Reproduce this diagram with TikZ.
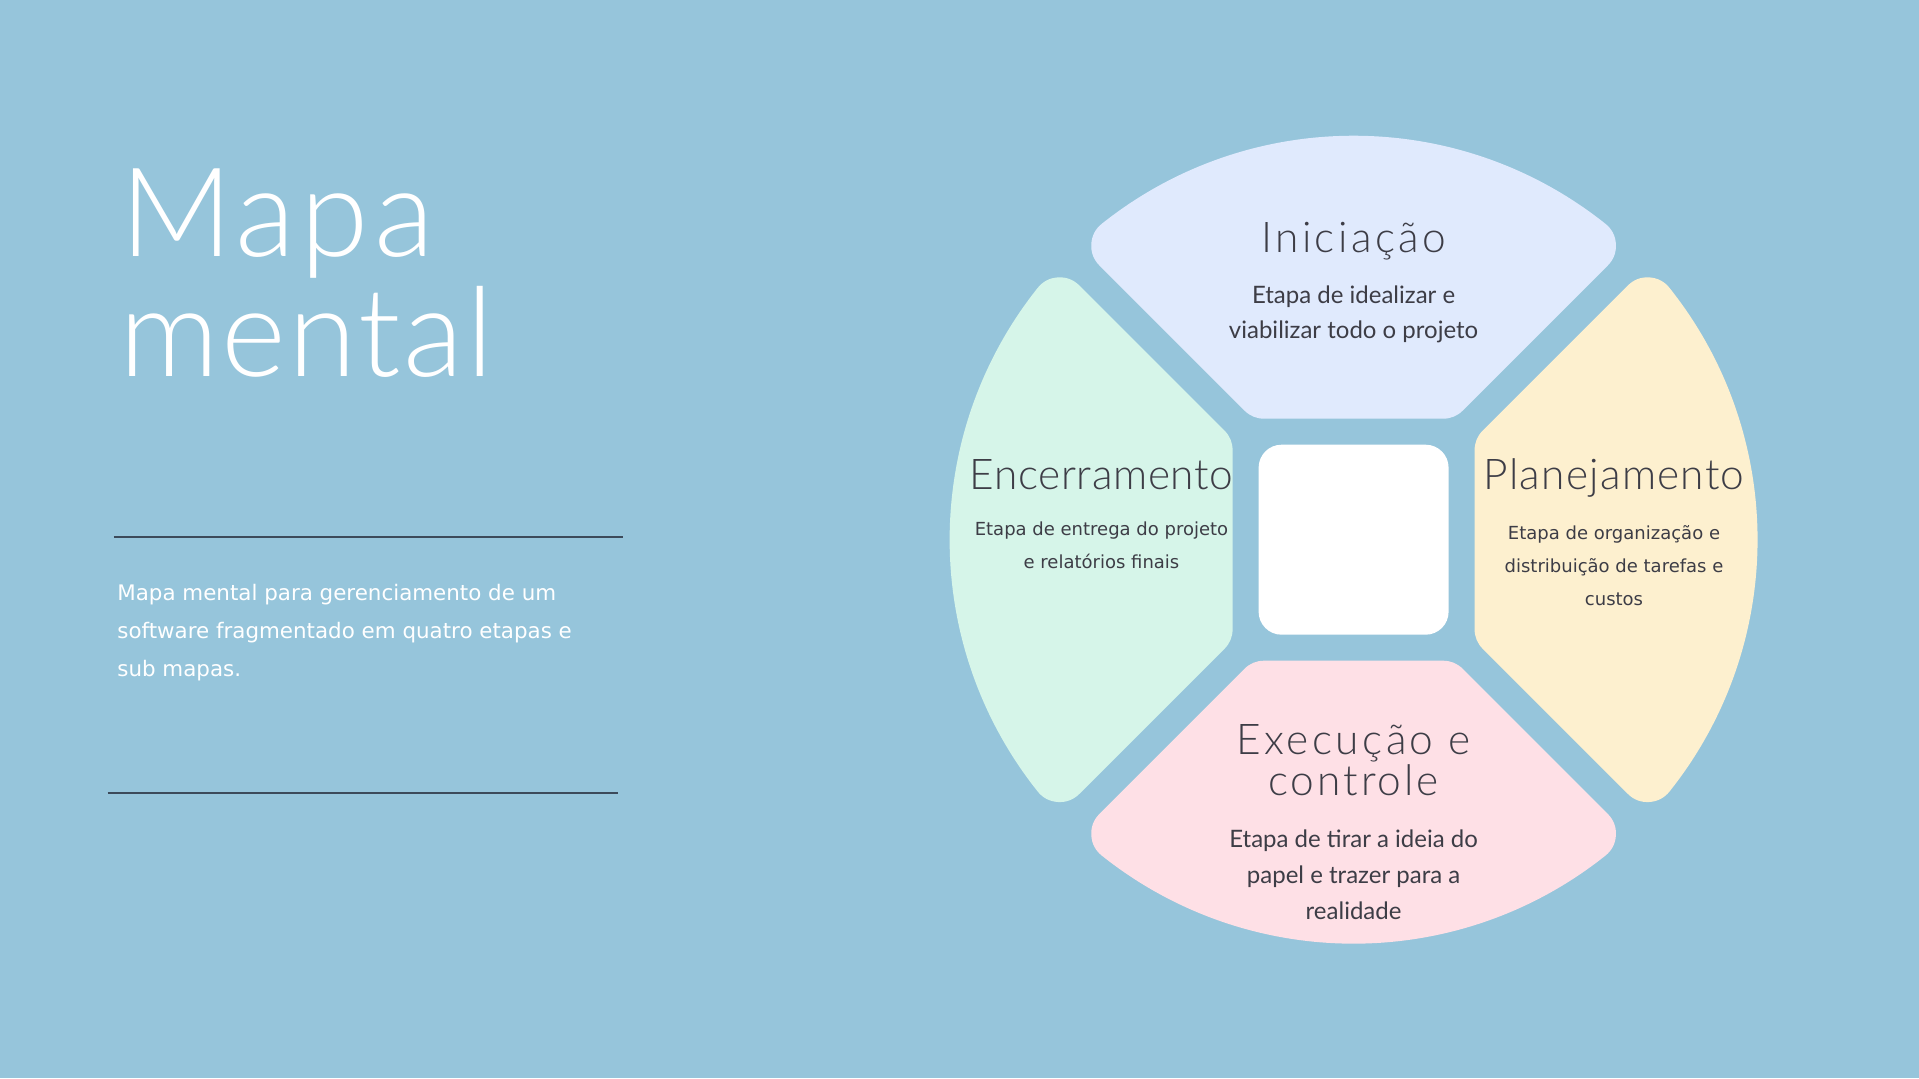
\documentclass[tikz,border=0pt]{standalone}
\usepackage{fontspec}
\IfFontExistsTF{Lato Light}
  {\newfontfamily\headfont{Lato Light}}
  {\newfontfamily\headfont{Lato}}
\newfontfamily\plainsans{DejaVu Sans}
\newfontfamily\bodylato{Lato}
\definecolor{bgblue}{HTML}{96C5DB}
\definecolor{petalblue}{HTML}{E0EAFD}
\definecolor{petalmint}{HTML}{D6F5E9}
\definecolor{petalcream}{HTML}{FDF0CF}
\definecolor{petalpink}{HTML}{FEE0E6}
\definecolor{inktext}{HTML}{3D3D46}
\definecolor{rulecol}{HTML}{3C4A5A}
\begin{document}
\begin{tikzpicture}[x=0.5pt,y=0.5pt,
  bigtitle/.style={anchor=base west,inner sep=0pt,text=white,font=\headfont\fontsize{62pt}{62pt}\selectfont\addfontfeature{LetterSpace=#1}},
  bigtitle/.default=0,
  lead/.style={anchor=base west,inner sep=0pt,text=white,font=\plainsans\fontsize{10.7pt}{12pt}\selectfont},
  phase/.style={anchor=base,inner sep=0pt,text=inktext,font=\headfont\fontsize{21.2pt}{21pt}\selectfont\addfontfeature{LetterSpace=#1}},
  phase/.default=0,
  narrowbody/.style={anchor=base,inner sep=0pt,text=inktext,font=\bodylato\fontsize{12pt}{12pt}\selectfont},
  widebody/.style={anchor=base,inner sep=0pt,text=inktext,font=\plainsans\fontsize{9pt}{9pt}\selectfont},
  petal/.style={fill=#1,draw=#1,line width=28pt,line join=round},
  hub/.style={rectangle,fill=white,minimum size=95pt,inner sep=0pt,rounded corners=11.5pt},
  rule/.style={draw=rulecol,line width=1pt}]
\fill[bgblue] (0,0) rectangle (1919,1078);
\useasboundingbox (0,0) rectangle (1919,1078);

% four petals around the centre (inset shape, widened by a round-joined stroke)
\begin{scope}[shift={(1353.6,538.3)}]
  \foreach \ang/\col in {0/petalblue,90/petalmint,180/petalpink,270/petalcream}{
    \path[petal=\col,rotate=\ang] (-89.4,149) -- (128.56:376)
      arc[start angle=128.56,end angle=51.44,radius=376] -- (89.4,149) -- cycle;
  }
  \node[hub] (hub) at (0,0) {};
\end{scope}

% left column
\node[bigtitle=4] (t1) at (120,821) {Mapa};
\node[bigtitle=2] (t2) at (119,701) {mental};
\coordinate (r1a) at (113.8,540.7);
\coordinate (r1b) at (623,540.7);
\coordinate (r2a) at (107.7,285);
\coordinate (r2b) at (618,285);
\draw[rule] (r1a) -- (r1b);
\draw[rule] (r2a) -- (r2b);
\node[lead] (p1) at (117,477) {Mapa mental para gerenciamento de um};
\node[lead] (p2) at (117,439) {software fragmentado em quatro etapas e};
\node[lead] (p3) at (117,401) {sub mapas.};

% top petal
\node[phase=8] (ini) at (1353.6,825) {Iniciação};
\node[narrowbody] (ini1) at (1353.6,774.5) {Etapa de idealizar e};
\node[narrowbody] (ini2) at (1353.6,739) {viabilizar todo o projeto};

% left petal
\node[phase=1.5] (enc) at (1101.5,588.4) {Encerramento};
\node[widebody] (enc1) at (1101.5,542) {Etapa de entrega do projeto};
\node[widebody] (enc2) at (1101.5,509) {e relatórios finais};

% right petal
\node[phase=3] (pla) at (1614,588) {Planejamento};
\node[widebody] (pla1) at (1614,538.3) {Etapa de organização e};
\node[widebody] (pla2) at (1614,505.2) {distribuição de tarefas e};
\node[widebody] (pla3) at (1614,472.2) {custos};

% bottom petal
\node[phase=8] (exe1) at (1353.6,323) {Execução e};
\node[phase=7] (exe2) at (1353.6,282.5) {controle};
\node[narrowbody] (exb1) at (1353.6,231) {Etapa de tirar a ideia do};
\node[narrowbody] (exb2) at (1353.6,194.4) {papel e trazer para a};
\node[narrowbody] (exb3) at (1353.6,159) {realidade};
\end{tikzpicture}
\end{document}
